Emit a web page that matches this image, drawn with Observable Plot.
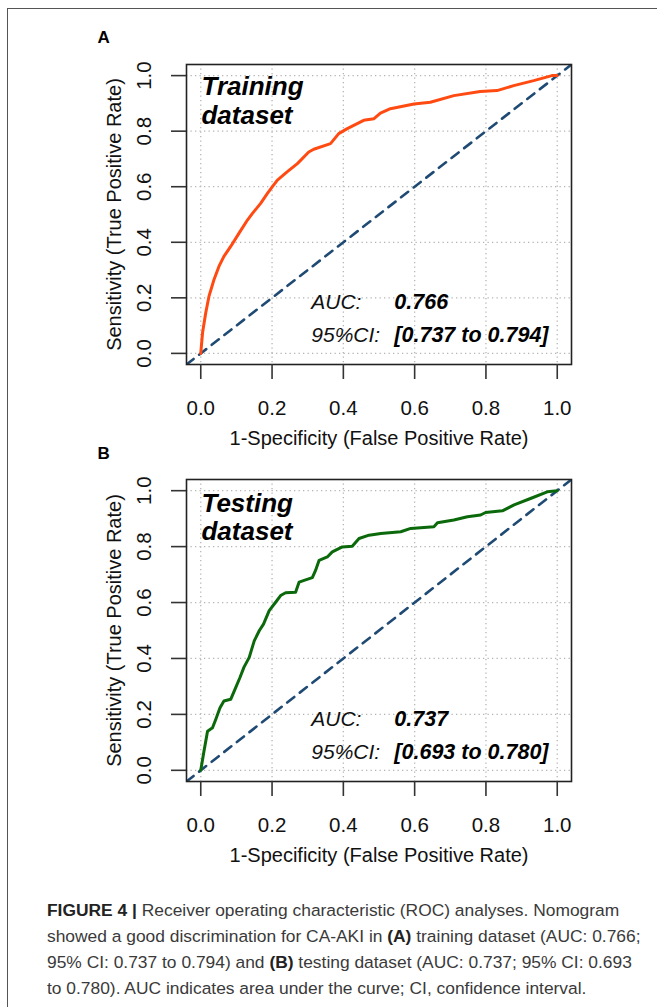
<!DOCTYPE html>
<html>
<head>
<meta charset="utf-8">
<script src="https://cdn.jsdelivr.net/npm/d3@7"></script>
<script src="https://cdn.jsdelivr.net/npm/@observablehq/plot@0.6"></script>
<style>
  html, body { margin: 0; padding: 0; background: #fff; }
  body { width: 657px; height: 1007px; position: relative; overflow: hidden; font-family: "Liberation Sans", Arial, sans-serif; }
  #border { position: absolute; left: 7px; top: 8px; width: 700px; height: 1100px; border: 1.6px solid #555; box-sizing: border-box; }
  .panel { position: absolute; left: 0; }
  #caption { position: absolute; left: 47px; top: 897px; font-size: 17.4px; line-height: 26px; color: #3a3a3a; white-space: nowrap; }
  #caption b { color: #222; }
</style>
</head>
<body>
<div id="border"></div>
<div id="panelA" class="panel" style="top:0px"></div>
<div id="panelB" class="panel" style="top:470px"></div>
<div id="caption">
  <div><b>FIGURE 4 |</b> Receiver operating characteristic (ROC) analyses. Nomogram</div>
  <div>showed a good discrimination for CA-AKI in <b>(A)</b> training dataset (AUC: 0.766;</div>
  <div>95% CI: 0.737 to 0.794) and <b>(B)</b> testing dataset (AUC: 0.737; 95% CI: 0.693</div>
  <div>to 0.780). AUC indicates area under the curve; CI, confidence interval.</div>
</div>
<script>
// ---- Data ----
const ticks = [0, 0.2, 0.4, 0.6, 0.8, 1.0];
const tickLabels = ["0.0", "0.2", "0.4", "0.6", "0.8", "1.0"];

const trainFpr = [0, 0.005, 0.014, 0.023, 0.037, 0.051, 0.065, 0.084, 0.107, 0.131, 0.145, 0.168, 0.187, 0.201, 0.215, 0.243, 0.271, 0.303, 0.317, 0.364, 0.387, 0.411, 0.457, 0.486, 0.504, 0.532, 0.598, 0.644, 0.710, 0.784, 0.831, 0.878, 0.934, 0.985, 1.0];
const trainTpr = [0, 0.074, 0.146, 0.205, 0.265, 0.313, 0.349, 0.385, 0.432, 0.480, 0.504, 0.540, 0.576, 0.600, 0.624, 0.654, 0.683, 0.725, 0.735, 0.755, 0.791, 0.809, 0.839, 0.845, 0.865, 0.881, 0.898, 0.904, 0.928, 0.943, 0.946, 0.964, 0.982, 1.0, 1.0];

const testFpr = [0, 0.009, 0.019, 0.033, 0.042, 0.054, 0.065, 0.084, 0.098, 0.110, 0.121, 0.136, 0.150, 0.164, 0.176, 0.192, 0.210, 0.224, 0.238, 0.266, 0.276, 0.290, 0.313, 0.322, 0.332, 0.355, 0.369, 0.397, 0.425, 0.444, 0.472, 0.505, 0.561, 0.589, 0.654, 0.664, 0.710, 0.748, 0.785, 0.799, 0.846, 0.879, 0.925, 0.972, 1.0];
const testTpr = [0, 0.068, 0.140, 0.152, 0.182, 0.224, 0.248, 0.254, 0.296, 0.332, 0.368, 0.404, 0.463, 0.499, 0.523, 0.571, 0.601, 0.625, 0.635, 0.637, 0.673, 0.679, 0.689, 0.715, 0.751, 0.763, 0.781, 0.799, 0.801, 0.829, 0.841, 0.847, 0.853, 0.865, 0.871, 0.885, 0.895, 0.907, 0.913, 0.922, 0.928, 0.949, 0.972, 0.996, 1.0];

const diagonal = [-0.04, 1.04];

const panels = [
  {id: "panelA", letter: "A", title1: "Training", title2: "dataset", auc: "0.766", ci: "[0.737 to 0.794]",
   fpr: trainFpr, tpr: trainTpr, color: "#ff4a12", height: 470, marginTop: 64, marginBottom: 106, letterDy: -22, t1y: 0.929},
  {id: "panelB", letter: "B", title1: "Testing", title2: "dataset", auc: "0.737", ci: "[0.693 to 0.780]",
   fpr: testFpr, tpr: testTpr, color: "#0b690b", height: 400, marginTop: 9, marginBottom: 89, letterDy: -21, t1y: 0.922}
];

const font = "'Liberation Sans', Arial, sans-serif";

for (const p of panels) {
  const curve = p.fpr.map((x, i) => ({x, y: p.tpr[i]}));
  const chart = Plot.plot({
    width: 657,
    height: p.height,
    marginLeft: 186,
    marginRight: 86,
    marginTop: p.marginTop,
    marginBottom: p.marginBottom,
    style: {fontFamily: font, background: "transparent", overflow: "visible"},
    x: {domain: [-0.04, 1.04], ticks: ticks, axis: null},
    y: {domain: [-0.04, 1.04], ticks: ticks, axis: null},
    marks: [
      Plot.gridX(ticks, {stroke: "#b5b5b5", strokeOpacity: 1, strokeWidth: 1.3, strokeDasharray: "1.3,3.2"}),
      Plot.gridY(ticks, {stroke: "#b5b5b5", strokeOpacity: 1, strokeWidth: 1.3, strokeDasharray: "1.3,3.2"}),
      Plot.line(diagonal, {x: d => d, y: d => d, stroke: "#1f4a73", strokeWidth: 2.6, strokeDasharray: "9,7", clip: true}),
      Plot.line(curve, {x: "x", y: "y", stroke: p.color, strokeWidth: 3, strokeLinejoin: "round"}),
      Plot.frame({stroke: "#222", strokeWidth: 1.6}),
      Plot.axisX(ticks, {tickSize: 15, tickFormat: () => "", stroke: "#333", strokeWidth: 1.6, label: null}),
      Plot.axisY(ticks, {tickSize: 15, tickFormat: () => "", stroke: "#333", strokeWidth: 1.6, label: null}),
      // tick labels
      Plot.text(ticks, {x: d => d, frameAnchor: "bottom", dy: 44, text: (d, i) => tickLabels[i], fontSize: 20.5, textAnchor: "middle", lineAnchor: "middle", fill: "#111"}),
      Plot.text(ticks, {y: d => d, frameAnchor: "left", dx: -42, text: (d, i) => tickLabels[i], fontSize: 20.5, rotate: -90, textAnchor: "middle", lineAnchor: "middle", fill: "#111"}),
      // axis titles
      Plot.text(["1-Specificity (False Positive Rate)"], {frameAnchor: "bottom", dy: 74, fontSize: 20, textAnchor: "middle", lineAnchor: "middle", fill: "#111"}),
      Plot.text(["Sensitivity (True Positive Rate)"], {frameAnchor: "left", dx: -72, rotate: -90, fontSize: 20, textAnchor: "middle", lineAnchor: "middle", fill: "#111"}),
      // panel letter
      Plot.text([p.letter], {frameAnchor: "top-left", dx: -89, dy: p.letterDy, fontSize: 17, fontWeight: "bold", textAnchor: "start", lineAnchor: "bottom", fill: "#000"}),
      // dataset title (two lines)
      Plot.text([p.title1], {x: 0.002, y: p.t1y, fontSize: 26, fontWeight: "bold", fontStyle: "italic", textAnchor: "start", lineAnchor: "bottom", fill: "#000"}),
      Plot.text([p.title2], {x: 0.002, y: 0.825, fontSize: 26, fontWeight: "bold", fontStyle: "italic", textAnchor: "start", lineAnchor: "bottom", fill: "#000"}),
      // AUC annotation
      Plot.text(["AUC:"], {x: 0.31, y: 0.16, fontSize: 21, fontStyle: "italic", textAnchor: "start", lineAnchor: "bottom", fill: "#111"}),
      Plot.text([p.auc], {x: 0.543, y: 0.16, fontSize: 21.5, fontWeight: "bold", fontStyle: "italic", textAnchor: "start", lineAnchor: "bottom", fill: "#000"}),
      Plot.text(["95%CI:"], {x: 0.31, y: 0.0405, fontSize: 21, fontStyle: "italic", textAnchor: "start", lineAnchor: "bottom", fill: "#111"}),
      Plot.text([p.ci], {x: 0.543, y: 0.0405, fontSize: 21.5, fontWeight: "bold", fontStyle: "italic", textAnchor: "start", lineAnchor: "bottom", fill: "#000"})
    ]
  });
  document.getElementById(p.id).appendChild(chart);
}
</script>
</body>
</html>
